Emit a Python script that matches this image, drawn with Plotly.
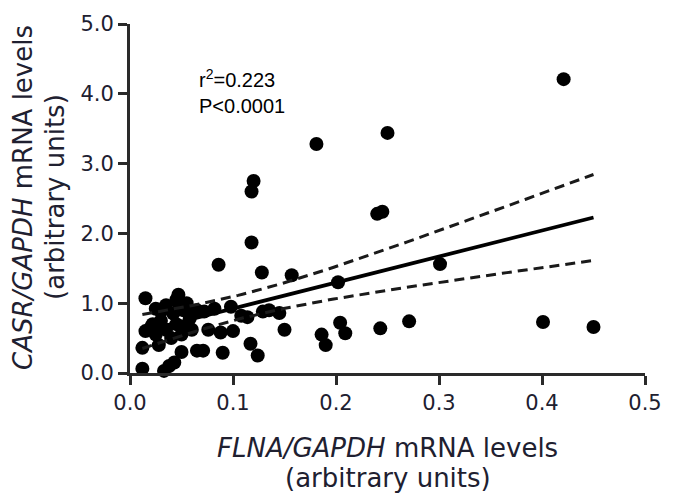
import numpy as np
import plotly.graph_objects as go

# FLNA/GAPDH (x) and CASR/GAPDH (y) mRNA levels
flna = [0.421, 0.250, 0.181, 0.120, 0.118, 0.240, 0.245, 0.118, 0.086, 0.128,
        0.157, 0.301, 0.202, 0.401, 0.450, 0.243, 0.271, 0.204, 0.209, 0.186,
        0.190, 0.150, 0.145, 0.135, 0.072, 0.082, 0.098, 0.114, 0.129, 0.076,
        0.088, 0.117, 0.124, 0.090, 0.071, 0.100, 0.108, 0.060, 0.065, 0.015,
        0.047, 0.045, 0.012, 0.012, 0.033, 0.043, 0.038, 0.065, 0.050, 0.020,
        0.015, 0.025, 0.030, 0.035, 0.040, 0.045, 0.050, 0.055, 0.028, 0.030,
        0.042, 0.052, 0.058, 0.022, 0.060, 0.048, 0.035, 0.055, 0.025]
casr = [4.21, 3.44, 3.28, 2.75, 2.60, 2.28, 2.31, 1.87, 1.55, 1.44,
        1.40, 1.56, 1.30, 0.73, 0.66, 0.64, 0.74, 0.72, 0.57, 0.55,
        0.40, 0.62, 0.86, 0.90, 0.88, 0.92, 0.95, 0.80, 0.88, 0.62,
        0.58, 0.42, 0.25, 0.29, 0.32, 0.60, 0.82, 0.85, 0.90, 1.07,
        1.12, 1.05, 0.36, 0.06, 0.03, 0.15, 0.10, 0.32, 0.30, 0.65,
        0.60, 0.55, 0.75, 0.62, 0.50, 0.70, 0.55, 0.65, 0.40, 0.88,
        0.85, 0.90, 0.78, 0.70, 0.62, 0.95, 0.97, 1.00, 0.92]
stats_lines = ["r<sup>2</sup>=0.223", "P<0.0001"]
x_ticks = [0.0, 0.1, 0.2, 0.3, 0.4, 0.5]
y_ticks = [0.0, 1.0, 2.0, 3.0, 4.0, 5.0]

x = np.array(flna)
y = np.array(casr)
n = len(x)
slope, intercept = np.polyfit(x, y, 1)
resid = y - (slope * x + intercept)
s = np.sqrt(np.sum(resid ** 2) / (n - 2))
sxx = np.sum((x - x.mean()) ** 2)
t = 1.997
xf = np.linspace(x.min(), x.max(), 100)
yf = slope * xf + intercept
half = t * s * np.sqrt(1.0 / n + (xf - x.mean()) ** 2 / sxx)

fig = go.Figure()
fig.add_trace(go.Scatter(x=x, y=y, mode="markers",
                         marker=dict(size=14, color="black"), cliponaxis=False))
fig.add_trace(go.Scatter(x=xf, y=yf, mode="lines", line=dict(color="black", width=3.8)))
fig.add_trace(go.Scatter(x=xf, y=yf + half, mode="lines",
                         line=dict(color="#1a1a1a", width=3, dash="10px,6px")))
fig.add_trace(go.Scatter(x=xf, y=yf - half, mode="lines",
                         line=dict(color="#1a1a1a", width=3, dash="10px,6px")))

FONT = "DejaVu Sans"
axis_common = dict(showgrid=False, zeroline=False, showline=True, linecolor="#2a2a2a",
                   linewidth=2.8, ticks="outside", ticklen=9, tickwidth=2.8,
                   tickcolor="#2a2a2a",
                   tickfont=dict(family=FONT, size=21, color="#202030"))
fig.update_layout(
    width=674, height=495, showlegend=False,
    margin=dict(l=130, r=23, t=24, b=122),
    plot_bgcolor="white", paper_bgcolor="white",
    xaxis=dict(range=[0, 0.5], tickvals=x_ticks,
               ticktext=[f"{v:.1f}" for v in x_ticks], **axis_common),
    yaxis=dict(range=[0, 5], tickvals=y_ticks,
               ticktext=[f"{v:.1f}" for v in y_ticks], **axis_common),
    font=dict(family=FONT, color="#202030"),
)
fs = 26
fig.add_annotation(xref="paper", yref="paper", x=0.5, y=-0.2135, xanchor="center", yanchor="middle",
                   text="<i>FLNA/GAPDH</i> mRNA levels", showarrow=False, font=dict(size=fs))
fig.add_annotation(xref="paper", yref="paper", x=0.5, y=-0.301, xanchor="center", yanchor="middle",
                   text="(arbitrary units)", showarrow=False, font=dict(size=fs))
fig.add_annotation(xref="paper", yref="paper", x=-0.208, y=0.504, xanchor="center", yanchor="middle",
                   text="<i>CASR/GAPDH</i> mRNA levels", textangle=-90, showarrow=False, font=dict(size=fs))
fig.add_annotation(xref="paper", yref="paper", x=-0.146, y=0.504, xanchor="center", yanchor="middle",
                   text="(arbitrary units)", textangle=-90, showarrow=False, font=dict(size=fs))
fig.add_annotation(xref="paper", yref="paper", x=0.1324, y=0.804, xanchor="left", yanchor="bottom",
                   text=stats_lines[0], showarrow=False, borderpad=0,
                   font=dict(family="Liberation Sans, Arial", size=20, color="black"))
fig.add_annotation(xref="paper", yref="paper", x=0.1324, y=0.800, xanchor="left", yanchor="top",
                   text=stats_lines[1], showarrow=False, borderpad=0,
                   font=dict(family="Liberation Sans, Arial", size=20, color="black"))
fig.write_html("out.html", config={"displayModeBar": False},
               post_script="document.body.style.margin='0';")
